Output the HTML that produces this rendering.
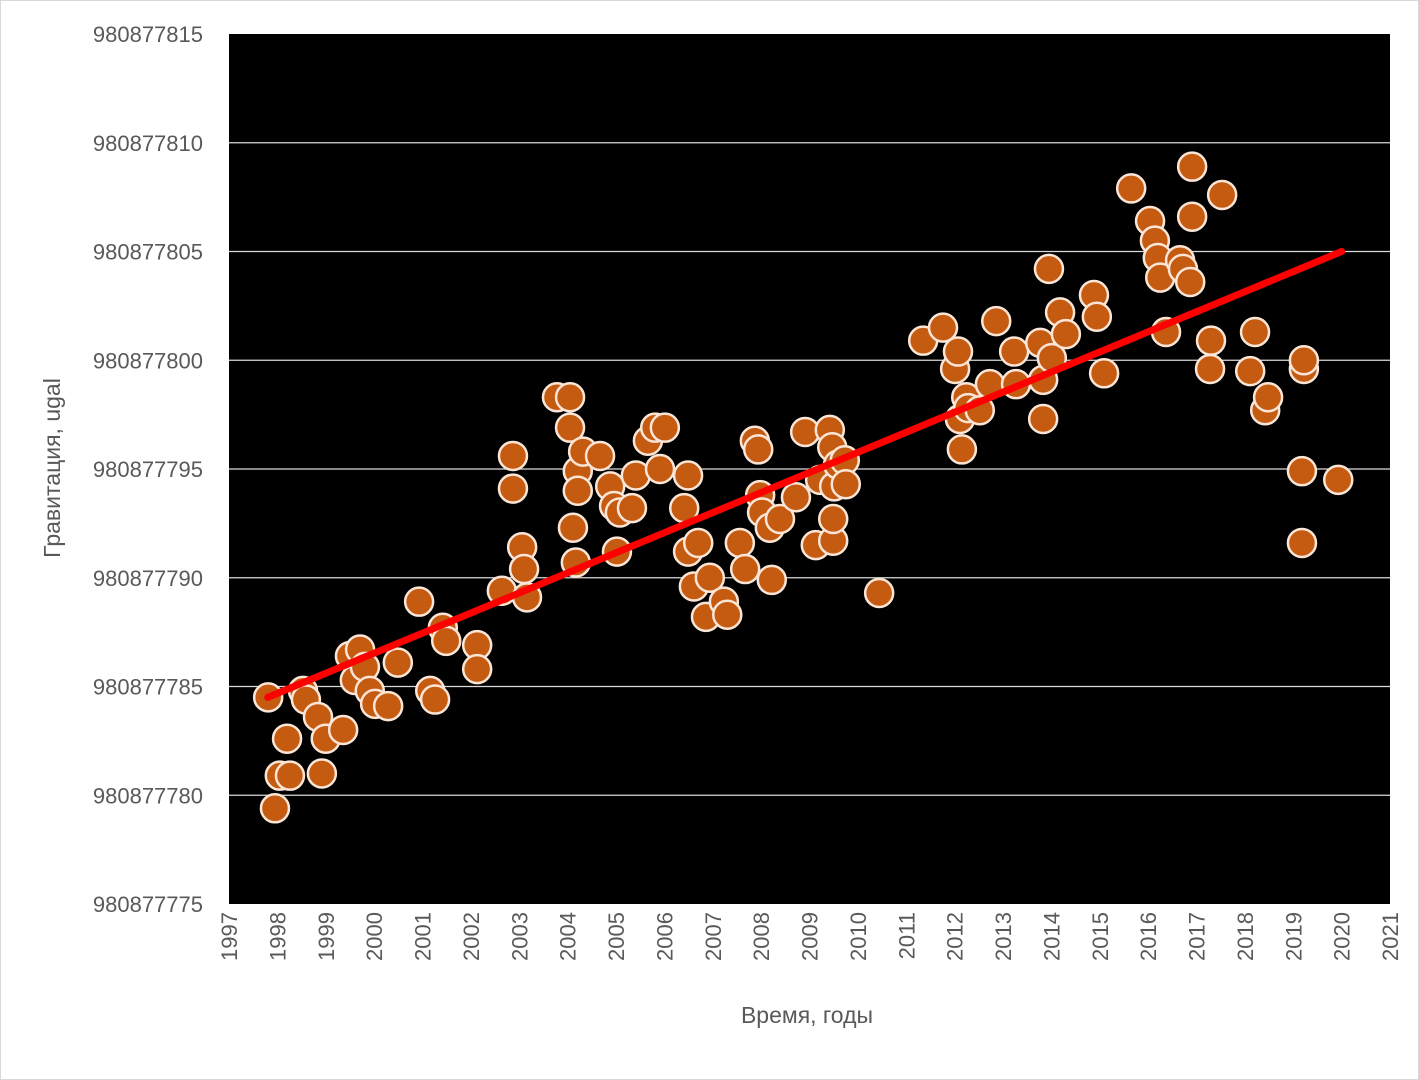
<!DOCTYPE html>
<html><head><meta charset="utf-8"><style>
html,body{margin:0;padding:0;background:#fff;}
svg{display:block;font-family:"Liberation Sans","Noto Sans CJK SC",sans-serif;}
</style></head><body>
<svg id="chart" width="1419" height="1080" viewBox="0 0 1419 1080">
<rect x="0.5" y="0.5" width="1418" height="1079" fill="#fff" stroke="#d9d9d9"/>
<rect x="229" y="34" width="1161" height="870" fill="#000"/>
<g id="grid"></g>
<g id="yticks"></g>
<g id="xticks"></g>
<g id="points"></g>
<g id="trend"></g>
<text x="807" y="1023" font-size="23" fill="#595959" text-anchor="middle">Время, годы</text>
<text transform="translate(60,468) rotate(-90)" font-size="23" fill="#595959" text-anchor="middle">Гравитация, ugal</text>
</svg>
<script>
const BASE = 980877000;
const years = [1997.81,1997.95,1998.05,1998.26,1998.2,1998.53,1998.59,1998.84,1998.92,1999.0,1999.36,1999.5,1999.6,1999.71,1999.81,1999.91,2000.02,2000.29,2000.49,2000.93,2001.16,2001.26,2001.42,2001.49,2002.13,2002.13,2002.64,2002.87,2002.87,2003.06,2003.1,2003.16,2003.78,2004.05,2004.05,2004.11,2004.17,2004.21,2004.21,2004.32,2004.67,2004.88,2004.96,2005.02,2005.08,2005.33,2005.41,2005.66,2005.81,2006.01,2005.91,2006.41,2006.49,2006.49,2006.61,2006.7,2006.86,2006.94,2007.23,2007.3,2007.56,2007.67,2007.87,2007.94,2007.98,2008.02,2008.18,2008.22,2008.39,2008.72,2008.91,2009.13,2009.22,2009.42,2009.47,2009.49,2009.49,2009.51,2009.59,2009.73,2009.75,2010.44,2011.35,2011.76,2012.01,2012.07,2012.11,2012.15,2012.24,2012.28,2012.52,2012.73,2012.86,2013.23,2013.27,2013.77,2013.83,2013.83,2013.95,2014.01,2014.18,2014.3,2014.88,2014.94,2015.09,2015.65,2016.04,2016.14,2016.2,2016.25,2016.37,2016.66,2016.72,2016.87,2016.91,2016.91,2017.3,2017.28,2017.53,2018.11,2018.21,2018.42,2018.48,2019.18,2019.18,2019.22,2019.22,2019.93];
const gravity = [784.5,779.4,780.9,780.9,782.6,784.8,784.4,783.6,781.0,782.6,783.0,786.4,785.3,786.7,785.9,784.8,784.2,784.1,786.1,788.9,784.8,784.4,787.7,787.1,786.9,785.8,789.4,795.6,794.1,791.4,790.4,789.1,798.3,798.3,796.9,792.3,790.7,794.9,794.0,795.8,795.6,794.2,793.3,791.2,793.0,793.2,794.7,796.3,796.9,796.9,795.0,793.2,794.7,791.2,789.6,791.6,788.2,790.0,788.9,788.3,791.6,790.4,796.3,795.9,793.8,793.0,792.3,789.9,792.7,793.7,796.7,791.5,794.5,796.8,796.0,791.7,792.7,794.2,795.2,795.4,794.3,789.3,800.9,801.5,799.6,800.4,797.3,795.9,798.3,797.8,797.7,798.9,801.8,800.4,798.9,800.8,799.1,797.3,804.2,800.1,802.2,801.2,803.0,802.0,799.4,807.9,806.4,805.5,804.7,803.8,801.3,804.6,804.2,803.6,808.9,806.6,800.9,799.6,807.6,799.5,801.3,797.7,798.3,794.9,791.6,799.6,800.0,794.5].map(v=>BASE+v);
const trendYears = [1997.8, 2020.0];
const trendValues = [BASE+784.5, BASE+805.0];
const yTicks = [980877775,980877780,980877785,980877790,980877795,980877800,980877805,980877810,980877815];
const xTicks = [1997,1998,1999,2000,2001,2002,2003,2004,2005,2006,2007,2008,2009,2010,2011,2012,2013,2014,2015,2016,2017,2018,2019,2020,2021];

const PL=229, PR=1390, PT=34, PB=904;
const XMIN=1997, XMAX=2021, YMIN=980877775, YMAX=980877815;
function sx(v){return PL+(v-XMIN)/(XMAX-XMIN)*(PR-PL);}
function sy(v){return PB-(v-YMIN)/(YMAX-YMIN)*(PB-PT);}
const NS="http://www.w3.org/2000/svg";
function mk(tag,attrs,parent){const e=document.createElementNS(NS,tag);for(const k in attrs)e.setAttribute(k,attrs[k]);parent.appendChild(e);return e;}
const grid=document.getElementById('grid'), yt=document.getElementById('yticks'), xt=document.getElementById('xticks');
yTicks.forEach(t=>{
  if(t>YMIN && t<YMAX){
    const l=mk('line',{x1:PL,x2:PR,y1:sy(t),y2:sy(t),stroke:'#d9d9d9','stroke-width':1.3},grid);
    
    
  }
  const tx=mk('text',{x:203,y:sy(t)+8,'font-size':22,fill:'#595959','text-anchor':'end'},yt);
  tx.textContent=String(t);
  
  
});
xTicks.forEach(t=>{
  const x=sx(t);
  const tx=mk('text',{transform:`translate(${x+8},912) rotate(-90)`,'font-size':22,fill:'#595959','text-anchor':'end'},xt);
  tx.textContent=String(t);
  
  
});
const pts=document.getElementById('points');
years.forEach((yr,i)=>{
  const c=mk('circle',{cx:sx(yr),cy:sy(gravity[i]),r:14,fill:'#c55a11',stroke:'#fbe5d6','stroke-width':2.5},pts);
  
  
});
const tr=document.getElementById('trend');
const ln=mk('line',{x1:sx(trendYears[0]),y1:sy(trendValues[0]),x2:sx(trendYears[1]),y2:sy(trendValues[1]),stroke:'#ff0000','stroke-width':7,'stroke-linecap':'round'},tr);


</script>
</body></html>
